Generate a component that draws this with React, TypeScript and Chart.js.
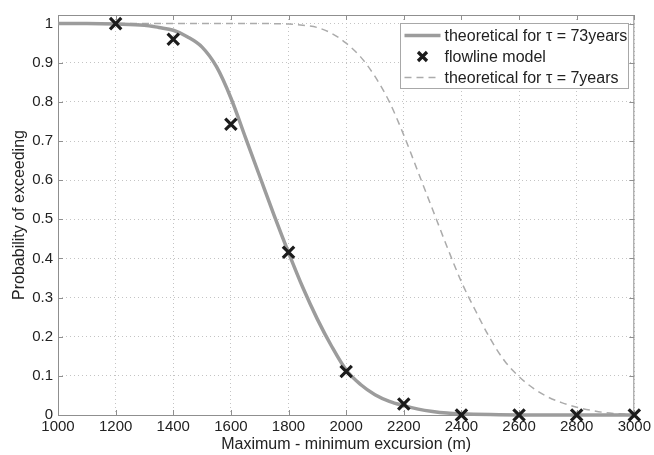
import React, { useEffect, useRef } from "react";
import { Chart, registerables } from "chart.js";

Chart.register(...registerables);

// Theoretical curve, tau = 73 years
const solidX = [1000, 1100, 1200, 1300, 1350, 1400, 1450, 1500, 1550, 1600, 1650, 1700, 1750, 1800, 1850, 1900, 1950, 2000, 2050, 2100, 2150, 2200, 2250, 2300, 2350, 2400, 2500, 2600, 2800, 3000];
const solidY = [1.0, 1.0, 0.999, 0.996, 0.99, 0.983, 0.966, 0.94, 0.89, 0.81, 0.71, 0.61, 0.51, 0.415, 0.325, 0.245, 0.175, 0.115, 0.078, 0.052, 0.035, 0.024, 0.015, 0.009, 0.005, 0.003, 0.001, 0.0, 0.0, 0.0];

// Flowline model
const markX = [1200, 1400, 1600, 1800, 2000, 2200, 2400, 2600, 2800, 3000];
const markY = [1.0, 0.96, 0.743, 0.416, 0.111, 0.028, 0.0, 0.0, 0.0, 0.0];

// Theoretical curve, tau = 7 years
const dashX = [1000, 1700, 1800, 1850, 1900, 1950, 2000, 2050, 2100, 2150, 2200, 2250, 2300, 2350, 2400, 2450, 2500, 2550, 2600, 2650, 2700, 2750, 2800, 2850, 2900, 2950, 3000];
const dashY = [1.0, 1.0, 0.999, 0.996, 0.99, 0.975, 0.95, 0.915, 0.865, 0.8, 0.715, 0.62, 0.525, 0.43, 0.34, 0.265, 0.195, 0.138, 0.098, 0.068, 0.046, 0.031, 0.02, 0.012, 0.006, 0.003, 0.001];

const legendLabels = ["theoretical for τ = 73years", "flowline model", "theoretical for τ = 7years"];
const xTitle = "Maximum - minimum excursion (m)";
const yTitle = "Probability of exceeding";

const FONT = '"Liberation Sans", Arial, Helvetica, sans-serif';
const TEXT = "#222222";
const FRAME = "#8f8f8f";

const zip = (xs: number[], ys: number[]) => xs.map((x, i) => ({ x, y: ys[i] }));

const framePlugin = {
  id: "matlabFrame",
  beforeDatasetsDraw(chart: any) {
    const { ctx, chartArea } = chart;
    const { left, right, top, bottom } = chartArea;
    ctx.save();
    ctx.strokeStyle = FRAME;
    ctx.lineWidth = 1;
    ctx.setLineDash([]);
    ctx.strokeRect(left + 0.5, top + 0.5, right - left - 1, bottom - top);
    const tl = 5;
    ctx.beginPath();
    chart.scales.x.ticks.forEach((t: any) => {
      const px = Math.round(chart.scales.x.getPixelForValue(t.value)) + 0.5;
      ctx.moveTo(px, bottom);
      ctx.lineTo(px, bottom - tl);
      ctx.moveTo(px, top);
      ctx.lineTo(px, top + tl);
    });
    chart.scales.y.ticks.forEach((t: any) => {
      const py = Math.round(chart.scales.y.getPixelForValue(t.value)) + 0.5;
      ctx.moveTo(left, py);
      ctx.lineTo(left + tl, py);
      ctx.moveTo(right, py);
      ctx.lineTo(right - tl, py);
    });
    ctx.stroke();
    ctx.restore();
  },
};

const legendPlugin = {
  id: "boxLegend",
  afterDraw(chart: any) {
    const { ctx, chartArea } = chart;
    const w = 228;
    const h = 65;
    const x0 = Math.round(chartArea.right - 234) + 0.5;
    const y0 = Math.round(chartArea.top + 8) + 0.5;
    ctx.save();
    ctx.fillStyle = "#ffffff";
    ctx.fillRect(x0, y0, w, h);
    ctx.strokeStyle = "#a8a8a8";
    ctx.lineWidth = 1;
    ctx.setLineDash([]);
    ctx.strokeRect(x0, y0, w, h);

    const ds = chart.data.datasets;
    const rows = [
      { ds: ds[1], label: legendLabels[0], y: y0 + 12 },
      { ds: ds[0], label: legendLabels[1], y: y0 + 33 },
      { ds: ds[2], label: legendLabels[2], y: y0 + 54 },
    ];
    rows.forEach((r) => {
      const sx1 = x0 + 4;
      const sx2 = x0 + 40;
      if (r.ds.showLine === false) {
        const cx = (sx1 + sx2) / 2;
        const a = 4.5;
        ctx.strokeStyle = r.ds.borderColor;
        ctx.lineWidth = r.ds.pointBorderWidth;
        ctx.setLineDash([]);
        ctx.beginPath();
        ctx.moveTo(cx - a, r.y - a);
        ctx.lineTo(cx + a, r.y + a);
        ctx.moveTo(cx - a, r.y + a);
        ctx.lineTo(cx + a, r.y - a);
        ctx.stroke();
      } else {
        ctx.strokeStyle = r.ds.borderColor;
        ctx.lineWidth = r.ds.borderWidth;
        ctx.setLineDash(r.ds.borderDash || []);
        ctx.beginPath();
        ctx.moveTo(sx1, r.y);
        ctx.lineTo(sx2, r.y);
        ctx.stroke();
      }
      ctx.setLineDash([]);
      ctx.fillStyle = TEXT;
      ctx.font = `16px ${FONT}`;
      ctx.textAlign = "left";
      ctx.textBaseline = "middle";
      ctx.fillText(r.label, x0 + 44, r.y + 1);
    });
    ctx.restore();
  },
};

export default function App() {
  const canvasRef = useRef<HTMLCanvasElement | null>(null);

  useEffect(() => {
    if (!canvasRef.current) return;
    const chart = new Chart(canvasRef.current, {
      type: "line",
      data: {
        datasets: [
          {
            label: legendLabels[1],
            data: zip(markX, markY),
            showLine: false,
            borderColor: "#1c1c1c",
            backgroundColor: "#1c1c1c",
            pointStyle: "crossRot",
            pointRadius: 8,
            pointBorderWidth: 3.2,
            pointHoverRadius: 8,
            clip: false,
          } as any,
          {
            label: legendLabels[0],
            data: zip(solidX, solidY),
            borderColor: "#9c9c9c",
            borderWidth: 3.5,
            pointRadius: 0,
            cubicInterpolationMode: "monotone",
            fill: false,
            clip: false,
          } as any,
          {
            label: legendLabels[2],
            data: zip(dashX, dashY),
            borderColor: "#ababab",
            borderWidth: 1.5,
            borderDash: [7, 5],
            pointRadius: 0,
            cubicInterpolationMode: "monotone",
            fill: false,
            clip: false,
          } as any,
        ],
      },
      options: {
        animation: false,
        responsive: false,
        devicePixelRatio: 1,
        layout: { padding: { top: 15, right: 17, left: 0, bottom: 0 } },
        plugins: {
          legend: { display: false },
          tooltip: { enabled: false },
        },
        scales: {
          x: {
            type: "linear",
            min: 1000,
            max: 3000,
            ticks: {
              stepSize: 200,
              padding: 3,
              color: TEXT,
              font: { family: FONT, size: 15 },
              maxRotation: 0,
              callback: (v: any) => String(v),
            },
            grid: {
              color: "#c4c4c4",
              lineWidth: 1,
              drawTicks: false,
            },
            border: { display: false, dash: [1, 3] },
            title: {
              display: true,
              text: xTitle,
              color: TEXT,
              font: { family: FONT, size: 16 },
              padding: { top: 0, bottom: 1 },
            },
            afterFit: (s: any) => {
              s.height = 40;
            },
          },
          y: {
            type: "linear",
            min: 0,
            max: 1.022,
            ticks: {
              stepSize: 0.1,
              includeBounds: false,
              padding: 5,
              color: TEXT,
              font: { family: FONT, size: 15 },
              callback: (v: any) => String(Number(Number(v).toFixed(1))),
            },
            grid: {
              color: "#c4c4c4",
              lineWidth: 1,
              drawTicks: false,
            },
            border: { display: false, dash: [1, 3] },
            title: {
              display: true,
              text: yTitle,
              color: TEXT,
              font: { family: FONT, size: 16 },
              padding: { top: 10, bottom: 0 },
            },
            afterFit: (s: any) => {
              s.width = 58;
            },
          },
        },
      } as any,
      plugins: [framePlugin, legendPlugin],
    });
    return () => chart.destroy();
  }, []);

  return (
    <div style={{ position: "absolute", left: 0, top: 0, width: 654, height: 455, background: "#ffffff" }}>
      <canvas ref={canvasRef} width={654} height={455} style={{ display: "block" }} />
    </div>
  );
}
